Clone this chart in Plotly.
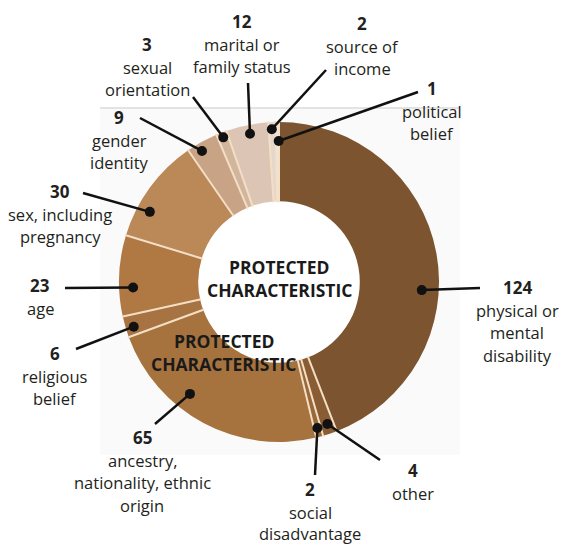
import math
import plotly.graph_objects as go

# Complaint counts by protected characteristic, clockwise from 12 o'clock
categories = [
    "physical or\nmental\ndisability",
    "other",
    "social\ndisadvantage",
    "ancestry,\nnationality, ethnic\norigin",
    "religious\nbelief",
    "age",
    "sex, including\npregnancy",
    "gender\nidentity",
    "sexual\norientation",
    "marital or\nfamily status",
    "source of\nincome",
    "political\nbelief",
]
counts = [124, 4, 2, 65, 6, 23, 30, 9, 3, 12, 2, 1]
center_title = ["PROTECTED", "CHARACTERISTIC"]

# Slice colours
colors = ["#7c542f", "#8a5c33", "#9a693b", "#a6733f", "#a87343", "#b07943",
          "#bb8857", "#c8a385", "#d2b59d", "#dcc5b4", "#e5d7cd", "#eee5df"]

W, H = 561, 547
CX, CY, R = 279, 282, 160
HOLE = 0.505

# Callout layout: label anchor (number centre), leader end near the label,
# relative position of the dot inside its slice (angle fraction, radius)
label_xy = [(517, 287), (413, 470), (310, 489), (142, 437), (55, 353), (40, 285),
            (60, 191), (119, 117), (147, 44), (242, 21), (362, 23), (432, 88)]
leader_end = [(480, 288), (380, 460), (315, 475), (155, 424), (76, 349), (65, 288),
              (83, 193), (140, 118), (193, 97), (248, 83), (326, 70), (418, 92)]
dot_frac = [0.587, 0.45, 0.5, 0.624, 0.4, 0.35, 0.30, 0.36, 0.52, 0.53, 0.45, 0.9]
dot_rad = [143, 150, 151, 143, 152, 146, 147, 152, 155, 151, 153, 141]
line_gap = [22.5, 22.5, 21.5, 22.5, 22.5, 22.5, 22.5, 22.5, 22.5, 22.5, 22.5, 22.5]

TEXT = "#231f20"
FONT = "Open Sans"


def px(x):
    return x / W


def py(y):
    return 1 - y / H


fig = go.Figure()

fig.add_trace(go.Pie(
    values=counts,
    labels=[c.replace("\n", " ") for c in categories],
    sort=False,
    direction="clockwise",
    rotation=0,
    hole=HOLE,
    textinfo="none",
    hoverinfo="label+value",
    marker=dict(colors=colors, line=dict(width=0)),
    domain=dict(x=[px(CX - R), px(CX + R)], y=[py(CY + R), py(CY - R)]),
    showlegend=False,
))

shapes = []
# pale panel behind the ring, white hole
shapes.append(dict(type="rect", xref="paper", yref="paper", layer="below",
                   x0=px(100), x1=px(460), y0=py(455), y1=py(108),
                   fillcolor="#fafafa", line=dict(width=0)))
shapes.append(dict(type="line", xref="paper", yref="paper", layer="below",
                   x0=px(100), x1=px(460), y0=py(108), y1=py(108),
                   line=dict(color="#e3e3e3", width=2)))
r_in = R * HOLE
shapes.append(dict(type="circle", xref="paper", yref="paper", layer="below",
                   x0=px(CX - r_in), x1=px(CX + r_in), y0=py(CY + r_in), y1=py(CY - r_in),
                   fillcolor="white", line=dict(width=0)))

total = sum(counts)

# cream radial separators between slices
acc = 0.0
for val in counts:
    a = math.radians(acc / total * 360.0)
    acc += val
    shapes.append(dict(type="line", xref="paper", yref="paper", layer="above",
                       x0=px(CX + (r_in - 1) * math.sin(a)), y0=py(CY - (r_in - 1) * math.cos(a)),
                       x1=px(CX + (R + 1) * math.sin(a)), y1=py(CY - (R + 1) * math.cos(a)),
                       line=dict(color="#f3dfc5", width=2)))

annotations = []
start = 0.0
for i, (cat, val) in enumerate(zip(categories, counts)):
    span = val / total * 360.0
    ang = math.radians(start + dot_frac[i] * span)
    start += span
    dx = CX + dot_rad[i] * math.sin(ang)
    dy = CY - dot_rad[i] * math.cos(ang)
    ex, ey = leader_end[i]
    shapes.append(dict(type="line", xref="paper", yref="paper", layer="above",
                       x0=px(dx), y0=py(dy), x1=px(ex), y1=py(ey),
                       line=dict(color="#111111", width=2.5)))
    shapes.append(dict(type="circle", xref="paper", yref="paper", layer="above",
                       x0=px(dx - 5), x1=px(dx + 5), y0=py(dy + 5), y1=py(dy - 5),
                       fillcolor="#111111", line=dict(width=0)))
    lx, ly = label_xy[i]
    annotations.append(dict(x=px(lx), y=py(ly), xref="paper", yref="paper",
                            text=f"<b>{val}</b>", showarrow=False,
                            xanchor="center", yanchor="middle",
                            font=dict(family=FONT, size=17, color=TEXT)))
    for k, line in enumerate(cat.split("\n")):
        annotations.append(dict(x=px(lx), y=py(ly + 23 + line_gap[i] * k),
                                xref="paper", yref="paper", text=line,
                                showarrow=False, xanchor="center", yanchor="middle",
                                font=dict(family=FONT, size=16.5, color=TEXT)))

# title in the hole, plus the second copy printed across the lower-left of the ring
for (tx, ty) in [(279, 267), (223.5, 341)]:
    for k, word in enumerate(center_title):
        annotations.append(dict(x=px(tx), y=py(ty + 22.5 * k), xref="paper", yref="paper",
                                text=f"<b>{word}</b>", showarrow=False,
                                xanchor="center", yanchor="middle",
                                font=dict(family=FONT, size=17.5, color="#1a1a1a")))

fig.update_layout(
    width=W, height=H,
    margin=dict(l=0, r=0, t=0, b=0),
    paper_bgcolor="white",
    plot_bgcolor="white",
    shapes=shapes,
    annotations=annotations,
)

fig.write_html("out.html")
